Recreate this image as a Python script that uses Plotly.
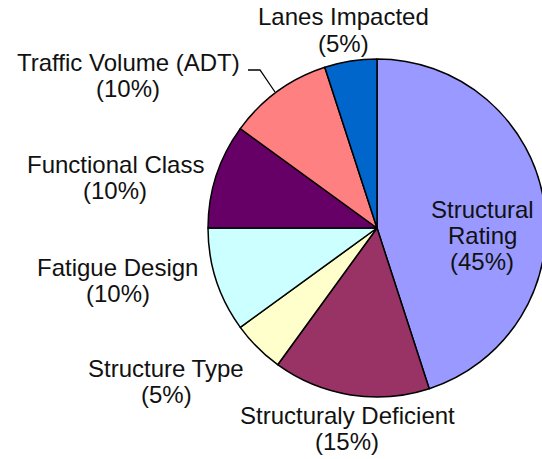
import plotly.graph_objects as go

# ---- data ----
categories = ["Structural Rating", "Structuraly Deficient", "Structure Type",
              "Fatigue Design", "Functional Class", "Traffic Volume (ADT)",
              "Lanes Impacted"]
values = [45, 15, 5, 10, 10, 10, 5]
colors = ["#9999FF", "#993366", "#FFFFCC", "#CCFFFF", "#660066", "#FF8080", "#0066CC"]

# label text lines (name lines + percent line)
label_lines = [
    ["Structural", "Rating"],
    ["Structuraly Deficient"],
    ["Structure Type"],
    ["Fatigue Design"],
    ["Functional Class"],
    ["Traffic Volume (ADT)"],
    ["Lanes Impacted"],
]

# ---- layout (pixel positions of label blocks: center x, first-line y) ----
W, H = 548, 459
CX, CY, R = 377, 228, 169
label_pos = [(482, 209), (347, 415), (166, 368), (118, 267), (115, 164), (128, 62), (343, 17)]
LINE = 26
FONT = dict(family="Liberation Sans, Arial, sans-serif", size=24, color="#111111")

fig = go.Figure(go.Pie(
    labels=categories,
    values=values,
    sort=False,
    direction="clockwise",
    rotation=0,
    marker=dict(colors=colors, line=dict(color="black", width=1.5)),
    textinfo="none",
    hoverinfo="label+percent",
    showlegend=False,
    domain=dict(x=[(CX - R) / W, (CX + R) / W], y=[1 - (CY + R) / H, 1 - (CY - R) / H]),
))

annotations = []
for lines, v, (cx, cy) in zip(label_lines, values, label_pos):
    all_lines = lines + [f"({v}%)"]
    for i, t in enumerate(all_lines):
        annotations.append(dict(
            x=cx / W, y=1 - (cy + i * LINE) / H, xref="paper", yref="paper",
            text=t, showarrow=False, xanchor="center", yanchor="middle", font=FONT,
        ))

# leader line for Traffic Volume label
pts = [(248, 70), (260, 70), (275, 92)]
path = "M " + " L ".join(f"{x / W},{1 - y / H}" for x, y in pts)
shapes = [dict(type="path", xref="paper", yref="paper", path=path,
               line=dict(color="black", width=1.3))]

fig.update_layout(
    width=W, height=H,
    margin=dict(l=0, r=0, t=0, b=0),
    paper_bgcolor="white", plot_bgcolor="white",
    annotations=annotations, shapes=shapes,
)

fig.write_html("out.html", config={"displayModeBar": False},
               post_script="document.body.style.margin='0';document.body.style.overflow='hidden';")
